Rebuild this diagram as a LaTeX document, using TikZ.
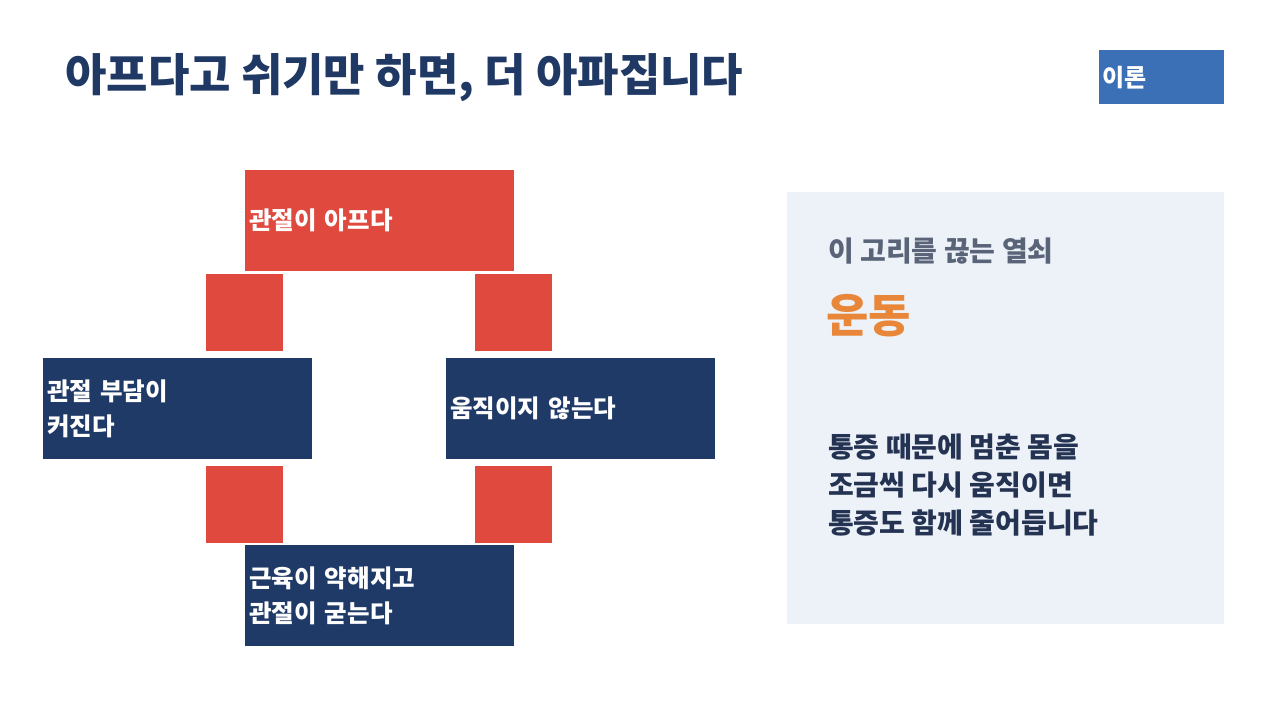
\documentclass[tikz,border=0pt]{standalone}
\usepackage{fontspec}
\setmainfont{Noto Sans CJK KR}
\definecolor{redbox}{HTML}{E0493E}
\definecolor{navybox}{HTML}{203A68}
\definecolor{titlecol}{HTML}{1F3864}
\definecolor{tagblue}{HTML}{3B6FB6}
\definecolor{panelbg}{HTML}{EDF2F9}
\definecolor{graytxt}{HTML}{5A6478}
\definecolor{orangetxt}{HTML}{E8873A}
\definecolor{bodytxt}{HTML}{253352}
\begin{document}
\begin{tikzpicture}[x=1pt,y=-1pt,
  cyclebox/.style={rectangle, anchor=north west, minimum width=269pt, minimum height=101pt,
    text width=261pt, inner xsep=4pt, inner ysep=0pt, align=left, text=white,
    font=\fontsize{24.5}{35}\selectfont\bfseries},
  redcard/.style={cyclebox, fill=redbox},
  navycard/.style={cyclebox, fill=navybox},
  linkbox/.style={rectangle, anchor=north west, fill=redbox, minimum width=77pt, minimum height=77pt, inner sep=0pt}
]
\useasboundingbox (0,0) rectangle (1280,720);
\fill[white] (0,0) rectangle (1280,720);

% title
\node[anchor=west, inner sep=0pt, text=titlecol, font=\fontsize{45}{52}\selectfont\bfseries] (title) at (65,78) {아프다고 쉬기만 하면, 더 아파집니다};

% tag
\node[rectangle, anchor=north west, fill=tagblue, minimum width=125pt, minimum height=54pt, text width=119pt, inner xsep=3pt, inner ysep=0pt, align=left, text=white, font=\fontsize{24}{28}\selectfont\bfseries] (tag) at (1099,50) {이론};

% cycle boxes
\node[redcard] (pain) at (245,170) {관절이 아프다};
\node[navycard] (load) at (43,358) {관절 부담이\\커진다};
\node[navycard] (still) at (446,358) {움직이지 않는다};
\node[navycard] (weak) at (245,545) {근육이 약해지고\\관절이 굳는다};

% link squares
\node[linkbox] (l1) at (206,274) {};
\node[linkbox] (l2) at (475,274) {};
\node[linkbox] (l3) at (206,466) {};
\node[linkbox] (l4) at (475,466) {};

% right panel
\node[rectangle, anchor=north west, fill=panelbg, minimum width=437pt, minimum height=432pt, inner sep=0pt] (panel) at (787,192) {};
\node[anchor=west, inner sep=0pt, text=graytxt, font=\fontsize{28}{32}\selectfont\bfseries] (key) at (828,251) {이 고리를 끊는 열쇠};
\node[anchor=west, inner sep=0pt, text=orangetxt, font=\fontsize{46}{52}\selectfont\bfseries] (exercise) at (826,316) {운동};
\node[anchor=north west, inner sep=0pt, align=left, text=bodytxt, font=\fontsize{28}{38}\selectfont\bfseries] (body) at (828,434) {통증 때문에 멈춘 몸을\\조금씩 다시 움직이면\\통증도 함께 줄어듭니다};
\end{tikzpicture}
\end{document}
